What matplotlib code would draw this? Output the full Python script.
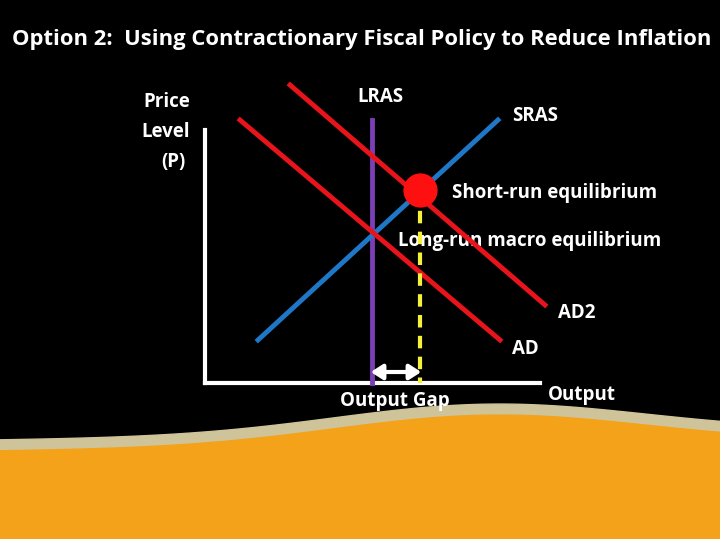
import numpy as np
import matplotlib
matplotlib.use("Agg")
import matplotlib.pyplot as plt

title = "Option 2:  Using Contractionary Fiscal Policy to Reduce Inflation"
curve_names = ["SRAS", "AD", "AD2"]
curve_x = [[258, 498], [240, 500], [290, 545]]
curve_y = [[340, 120], [120, 340], [85, 305]]
curve_colors = ["#1f77c8", "#e8141c", "#e8141c"]
lras_x = 372
eq_point = (420, 190)

fig = plt.figure(figsize=(7.2, 5.39), dpi=100, facecolor="black")
ax = fig.add_axes([0, 0, 1, 1])
ax.set_xlim(0, 720); ax.set_ylim(539, 0); ax.axis("off")
ax.set_facecolor("black")

# bottom wave
xs = np.linspace(0, 720, 300)
top = 440 - 30 * np.exp(-((xs - 490) / 220) ** 2) - 0.012 * xs
ax.fill_between(xs, top, 539, color="#cfc39a", zorder=1)
ax.fill_between(xs, top + 11, 539, color="#f4a21a", zorder=2)

fp = dict(family=["Open Sans", "DejaVu Sans"], fontweight="bold", color="white")
ax.text(362, 40, title, ha="center", va="center", fontsize=15.8, **fp)

fs = 13.5
ax.plot([205, 205], [130, 383], color="white", lw=3, zorder=3)
ax.plot([205, 540], [383, 383], color="white", lw=3, zorder=3)
ax.plot([lras_x, lras_x], [120, 383], color="#7b3fb5", lw=3.5, zorder=4)
for n, x, y, c in zip(curve_names, curve_x, curve_y, curve_colors):
    ax.plot(x, y, color=c, lw=3.5, zorder=4)
ax.plot([eq_point[0]] * 2, [eq_point[1], 383], color="#f5f03a", lw=3, ls=(0, (3, 2)), zorder=4)
ax.scatter([eq_point[0]], [eq_point[1]], s=560, color="#ff1010", zorder=6)
ax.annotate("", xy=(368, 372), xytext=(424, 372),
            arrowprops=dict(arrowstyle="<|-|>,head_length=0.7,head_width=0.45",
                            color="white", lw=3), zorder=7)

ax.text(190, 102, "Price", ha="right", va="center", fontsize=fs, **fp)
ax.text(190, 132, "Level", ha="right", va="center", fontsize=fs, **fp)
ax.text(186, 162, "(P)", ha="right", va="center", fontsize=fs, **fp)
ax.text(380, 97, "LRAS", ha="center", va="center", fontsize=fs, **fp)
ax.text(512, 116, "SRAS", ha="left", va="center", fontsize=fs, **fp)
ax.text(452, 193, "Short-run equilibrium", ha="left", va="center", fontsize=fs, **fp)
ax.text(398, 241, "Long-run macro equilibrium", ha="left", va="center", fontsize=fs, **fp)
ax.text(558, 313, "AD2", ha="left", va="center", fontsize=fs, **fp)
ax.text(512, 349, "AD", ha="left", va="center", fontsize=fs, **fp)
ax.text(395, 401, "Output Gap", ha="center", va="center", fontsize=fs, zorder=8, **fp)
ax.text(548, 395, "Output", ha="left", va="center", fontsize=fs, **fp)

fig.savefig("out.png", dpi=100, facecolor="black")
